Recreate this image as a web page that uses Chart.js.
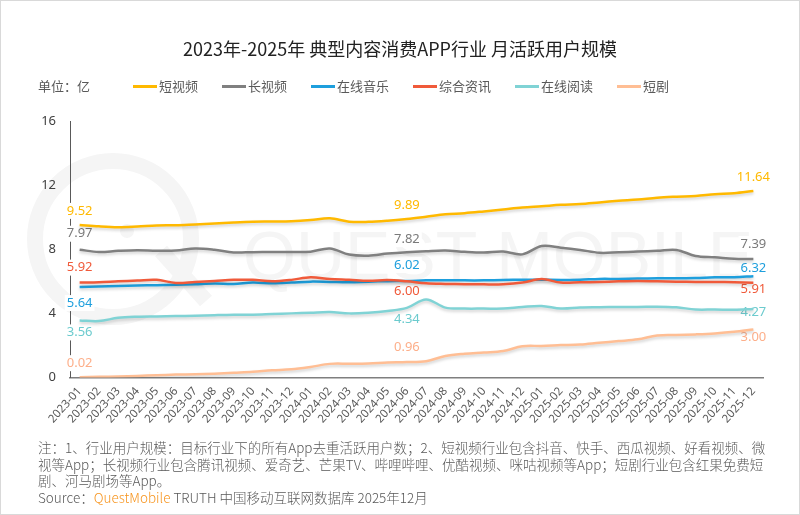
<!DOCTYPE html>
<html>
<head>
<meta charset="utf-8">
<script src="https://cdn.jsdelivr.net/npm/chart.js@4.4.0/dist/chart.umd.min.js"></script>
<style>
  html, body { margin: 0; padding: 0; background: #fff; }
  #wrap {
    position: relative; width: 800px; height: 515px; box-sizing: border-box;
    border: 1px solid #d9d9d9; overflow: hidden;
    font-family: "Noto Sans CJK SC", "Noto Sans", sans-serif;
  }
  #dataChart { position: absolute; left: 0; top: 0; }
  #title {
    position: absolute; left: 0; right: 0; top: 34px; text-align: center;
    font-size: 18px; line-height: 26px; color: #222; font-weight: 400;
  }
  #unit { position: absolute; left: 37px; top: 75px; font-size: 13px; line-height: 20px; color: #595959; }
  #legend { position: absolute; left: 132px; top: 75px; display: flex; font-size: 13px; line-height: 20px; color: #595959; }
  #legend .item { display: flex; align-items: center; margin-right: 24px; }
  #legend .sw { width: 24px; height: 3px; margin-right: 2px; }
  #note {
    position: absolute; left: 37px; top: 438px; width: 740px;
    font-size: 13.5px; line-height: 16.5px; color: #595959; font-weight: 300;
  }
  #note .qm { color: #F7941D; }
</style>
</head>
<body>
<div id="wrap">
  <canvas id="dataChart" width="800" height="515"></canvas>
  <div id="title">2023年-2025年 典型内容消费APP行业 月活跃用户规模</div>
  <div id="unit">单位：亿</div>
  <div id="legend"></div>
  <div id="note">注：1、行业用户规模：目标行业下的所有App去重活跃用户数；2、短视频行业包含抖音、快手、西瓜视频、好看视频、微<br>视等App；长视频行业包含腾讯视频、爱奇艺、芒果TV、哔哩哔哩、优酷视频、咪咕视频等App；短剧行业包含红果免费短<br>剧、河马剧场等App。<br>Source：<span class="qm">QuestMobile</span> TRUTH 中国移动互联网数据库 2025年12月</div>
</div>
<script>
const months = [
    "2023-01", "2023-02", "2023-03", "2023-04", "2023-05", "2023-06",
    "2023-07", "2023-08", "2023-09", "2023-10", "2023-11", "2023-12",
    "2024-01", "2024-02", "2024-03", "2024-04", "2024-05", "2024-06",
    "2024-07", "2024-08", "2024-09", "2024-10", "2024-11", "2024-12",
    "2025-01", "2025-02", "2025-03", "2025-04", "2025-05", "2025-06",
    "2025-07", "2025-08", "2025-09", "2025-10", "2025-11", "2025-12"
];

const shortVideo = [9.52, 9.43, 9.38, 9.42, 9.48, 9.50, 9.55, 9.60, 9.67, 9.72, 9.73, 9.75,
    9.82, 9.93, 9.72, 9.71, 9.78, 9.89, 10.03, 10.18, 10.25, 10.36, 10.48, 10.60,
    10.68, 10.77, 10.82, 10.92, 11.02, 11.10, 11.22, 11.28, 11.32, 11.43, 11.50, 11.64];

const longVideo = [7.97, 7.83, 7.90, 7.94, 7.91, 7.92, 8.05, 7.97, 7.80, 7.82, 7.83, 7.83,
    7.85, 8.05, 7.67, 7.60, 7.73, 7.82, 7.88, 7.92, 7.84, 7.80, 7.86, 7.68,
    8.20, 8.10, 7.96, 7.78, 7.81, 7.86, 7.90, 7.96, 7.58, 7.50, 7.40, 7.39];

const music = [5.64, 5.67, 5.71, 5.74, 5.76, 5.78, 5.82, 5.86, 5.84, 5.92, 5.88, 5.92,
    5.98, 5.96, 5.94, 5.98, 6.01, 6.02, 6.06, 6.07, 6.06, 6.06, 6.08, 6.10,
    6.10, 6.08, 6.10, 6.15, 6.15, 6.17, 6.19, 6.19, 6.21, 6.25, 6.26, 6.32];

const news = [5.92, 5.94, 6.00, 6.05, 6.09, 5.90, 5.96, 6.02, 6.09, 6.09, 6.00, 6.09,
    6.26, 6.14, 6.09, 6.03, 6.08, 6.00, 5.88, 5.84, 5.82, 5.81, 5.82, 5.92,
    6.14, 5.92, 5.94, 5.96, 6.00, 6.02, 6.00, 5.98, 5.96, 5.96, 5.94, 5.91];

const reading = [3.56, 3.52, 3.72, 3.79, 3.81, 3.83, 3.85, 3.89, 3.92, 3.92, 3.96, 4.00,
    4.04, 4.08, 4.00, 4.04, 4.15, 4.34, 4.87, 4.36, 4.30, 4.30, 4.30, 4.40,
    4.46, 4.30, 4.36, 4.38, 4.40, 4.40, 4.42, 4.38, 4.24, 4.24, 4.22, 4.27];

const drama = [0.02, 0.04, 0.07, 0.10, 0.14, 0.18, 0.20, 0.24, 0.30, 0.36, 0.45, 0.51,
    0.66, 0.85, 0.86, 0.88, 0.93, 0.96, 1.02, 1.34, 1.48, 1.56, 1.65, 1.95,
    1.97, 2.02, 2.06, 2.17, 2.27, 2.38, 2.62, 2.65, 2.69, 2.75, 2.85, 3.00];

const seriesNames = ["短视频", "长视频", "在线音乐", "综合资讯", "在线阅读", "短剧"];
const seriesValues = [shortVideo, longVideo, music, news, reading, drama];
const seriesColors = ["#FFB900", "#808080", "#1E9FDD", "#F05A3A", "#80D3D5", "#FFBE94"];
const labelColors = ["#FFB900", "#7a7a7a", "#1E9FDD", "#F05A3A", "#6CCBCE", "#FDAF8A"];

// which points get a value label, and where it sits (dy from point)
const labelIdx = [0, 17, 35];
const labelDy = [
    [-14, -14, -14],
    [-16, -13, -15],
    [16, -16, -8],
    [-15, 10, 7],
    [12, 11, 3],
    [-14, -15, 8]
];

// legend
const legendBox = document.getElementById("legend");
seriesNames.forEach((name, i) => {
    const item = document.createElement("div");
    item.className = "item";
    item.innerHTML = `<span class="sw" style="background:${seriesColors[i]}"></span><span>${name}</span>`;
    legendBox.appendChild(item);
});

// faint logo behind everything
const watermark = {
    id: "watermark",
    beforeDraw(chart) {
        const ctx = chart.ctx;
        ctx.save();
        ctx.strokeStyle = "#f5f5f5";
        ctx.fillStyle = "#f5f5f5";
        ctx.lineWidth = 16;
        ctx.beginPath();
        ctx.arc(112, 238, 78, 0, Math.PI * 2);
        ctx.stroke();
        ctx.beginPath();
        ctx.moveTo(160, 250);
        ctx.lineTo(205, 300);
        ctx.stroke();
        ctx.beginPath();
        ctx.arc(126, 230, 7, 0, Math.PI * 2);
        ctx.fill();
        ctx.font = "68px 'Liberation Sans'";
        ctx.textBaseline = "alphabetic";
        ctx.fillText("QUEST MOBILE", 242, 278);
        ctx.restore();
    }
};

const valueLabels = {
    id: "valueLabels",
    beforeDatasetsDraw(chart) {
        const ctx = chart.ctx;
        ctx.save();
        ctx.font = "13px 'Noto Sans', 'Noto Sans CJK SC'";
        ctx.textAlign = "center";
        ctx.textBaseline = "middle";
        chart.data.datasets.forEach((ds, d) => {
            const meta = chart.getDatasetMeta(d);
            labelIdx.forEach((idx, k) => {
                const pt = meta.data[idx];
                const txt = ds.data[idx].toFixed(2);
                const x = pt.x;
                const y = pt.y + labelDy[d][k];
                const w = ctx.measureText(txt).width;
                ctx.fillStyle = "#ffffff";
                ctx.fillRect(x - w / 2 - 2, y - 8, w + 4, 16);
                ctx.fillStyle = labelColors[d];
                ctx.fillText(txt, x, y);
            });
        });
        ctx.restore();
    }
};

const lineShadow = {
    id: "lineShadow",
    beforeDatasetDraw(chart) {
        const ctx = chart.ctx;
        ctx.save();
        ctx.shadowColor = "rgba(0,0,0,0.18)";
        ctx.shadowBlur = 3;
        ctx.shadowOffsetY = 2;
    },
    afterDatasetDraw(chart) {
        chart.ctx.restore();
    }
};

const datasets = seriesNames.map((name, i) => ({
    label: name,
    data: seriesValues[i],
    borderColor: seriesColors[i],
    backgroundColor: seriesColors[i],
    borderWidth: 2.5,
    pointRadius: 0,
    tension: 0.35,
    fill: false,
    order: 6 - i
}));

const dataChart = new Chart(document.getElementById("dataChart"), {
    type: "line",
    data: { labels: months, datasets: datasets },
    options: {
        responsive: false,
        animation: false,
        devicePixelRatio: 1,
        layout: { padding: { top: 120, left: 0, right: 38, bottom: 78.5 } },
        plugins: {
            legend: { display: false },
            tooltip: { enabled: false }
        },
        scales: {
            x: {
                offset: true,
                grid: { display: false, drawTicks: false },
                border: { display: true, color: "#7f7f7f", width: 1.5 },
                ticks: {
                    autoSkip: false,
                    minRotation: 48,
                    maxRotation: 48,
                    padding: 7,
                    color: "#595959",
                    font: { family: "'Noto Sans', 'Noto Sans CJK SC'", size: 11.5 }
                },
                afterFit(scale) { scale.height = 60; }
            },
            y: {
                min: 0,
                max: 16,
                grid: { display: false, drawTicks: false },
                border: { display: true, color: "#595959", width: 1 },
                ticks: {
                    stepSize: 4,
                    padding: 14,
                    color: "#404040",
                    font: { family: "'Noto Sans', 'Noto Sans CJK SC'", size: 13 }
                },
                afterFit(scale) { scale.width = 69; }
            }
        }
    },
    plugins: [watermark, valueLabels, lineShadow]
});
</script>
</body>
</html>
